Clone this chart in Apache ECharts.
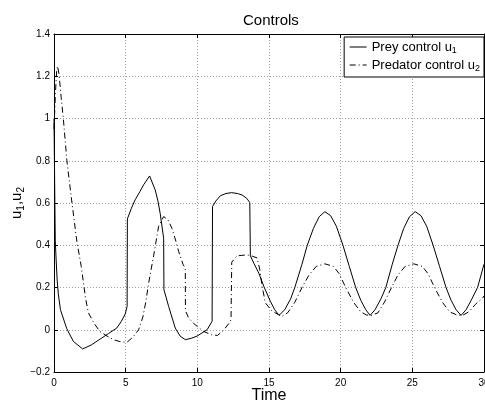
<!DOCTYPE html>
<html>
<head>
<meta charset="utf-8">
<script src="https://cdn.jsdelivr.net/npm/echarts@6/dist/echarts.min.js"></script>
<style>
  html, body { margin: 0; padding: 0; background: #fff; }
  #chart { width: 485px; height: 405px; }
</style>
</head>
<body>
<div id="chart"></div>
<script>
// values
const preyTime = [0, 0.03, 0.06, 0.09, 0.15, 0.22, 0.3, 0.45, 0.89, 1.35, 2.0, 2.6, 3.2, 3.8, 4.38, 4.7, 4.97, 5.1,
    5.12, 5.4, 5.66, 6.0, 6.25, 6.67, 7.06, 7.25, 7.41, 7.65,
    7.67, 8.0, 8.46, 8.8, 9.16, 9.6, 9.98, 10.4, 10.68, 11.03,
    11.06, 11.3, 11.6, 12.0, 12.38, 12.8, 13.12, 13.45, 13.66,
    13.7, 13.94, 14.29, 14.64, 15.1, 15.4, 15.7,
    16.1, 16.5, 16.8, 17.3, 17.67, 18.1, 18.5, 18.9, 19.3, 19.7, 20.16, 20.6, 21.05, 21.4, 21.75, 22.05,
    22.4, 22.8, 23.15, 23.6, 24.0, 24.4, 24.8, 25.2, 25.6, 26.0, 26.45, 26.9, 27.35, 27.7, 28.05, 28.4,
    28.75, 29.15, 29.55, 30.0];
const preyValue = [1.0, 0.8, 0.6, 0.42, 0.33, 0.236, 0.17, 0.095, 0.005, -0.055, -0.091, -0.072, -0.045, -0.018, 0.008, 0.04, 0.075, 0.11,
    0.525, 0.575, 0.615, 0.655, 0.686, 0.728, 0.662, 0.61, 0.55, 0.433,
    0.19, 0.11, 0.008, -0.03, -0.047, -0.04, -0.03, -0.012, 0.0, 0.04,
    0.583, 0.61, 0.634, 0.645, 0.649, 0.645, 0.638, 0.622, 0.602,
    0.35, 0.315, 0.268, 0.205, 0.134, 0.095, 0.068,
    0.095, 0.145, 0.2, 0.31, 0.4, 0.48, 0.535, 0.559, 0.54, 0.49, 0.4, 0.3, 0.2, 0.14, 0.095, 0.068,
    0.095, 0.145, 0.2, 0.31, 0.4, 0.48, 0.535, 0.559, 0.54, 0.49, 0.4, 0.3, 0.2, 0.14, 0.095, 0.068,
    0.095, 0.145, 0.2, 0.31];

const predTime = [0, 0.1, 0.18, 0.25, 0.35, 0.5, 0.65, 0.9, 1.2, 1.59, 1.9, 2.1, 2.2, 2.4, 2.8, 3.2, 3.7, 4.15, 4.6, 5.08,
    5.5, 5.9, 6.2, 6.4, 6.6, 6.95, 7.3, 7.65, 7.95, 8.23, 8.5, 8.7, 9.0, 9.16,
    9.17, 9.4, 9.74, 10.1, 10.44, 11.0, 11.4, 11.8, 12.2, 12.35,
    12.4, 12.77, 13.1, 13.47, 13.85, 14.17, 14.36, 14.52, 14.75, 15.22, 15.9,
    16.3, 16.8, 17.3, 17.8, 18.3, 18.9, 19.5, 19.9, 20.35, 20.9, 21.4, 21.8, 22.15,
    22.6, 23.05, 23.55, 24.0, 24.5, 25.1, 25.7, 26.1, 26.55, 27.1, 27.6, 28.1, 28.5,
    28.95, 29.4, 29.9, 30.0];
const predValue = [0.95, 1.12, 1.22, 1.248, 1.21, 1.1, 1.0, 0.8, 0.63, 0.42, 0.3, 0.2, 0.15, 0.08, 0.03, -0.008, -0.03, -0.047, -0.056, -0.06,
    -0.035, 0.0, 0.06, 0.13, 0.22, 0.35, 0.49, 0.536, 0.52, 0.48, 0.42, 0.37, 0.31, 0.29,
    0.09, 0.055, 0.03, 0.01, -0.008, -0.024, -0.027, -0.005, 0.03, 0.047,
    0.32, 0.35, 0.352, 0.355, 0.348, 0.34, 0.284, 0.205, 0.127, 0.087, 0.064,
    0.08, 0.13, 0.2, 0.26, 0.3, 0.312, 0.3, 0.265, 0.2, 0.13, 0.085, 0.07, 0.068,
    0.08, 0.13, 0.2, 0.26, 0.3, 0.312, 0.3, 0.265, 0.2, 0.13, 0.085, 0.07, 0.068,
    0.085, 0.12, 0.15, 0.16];

const xTicks = { min: 0, max: 30, interval: 5 };
const yTicks = { min: -0.2, max: 1.4, interval: 0.2 };

const zip = (xs, ys) => xs.map((x, i) => [x, ys[i]]);
const font = 'Liberation Sans, Arial, Helvetica, sans-serif';
const fmtY = v => {
    const n = +v.toFixed(1);
    return n < 0 ? '\u2212' + Math.abs(n) : String(n);
};

const chart = echarts.init(document.getElementById('chart'), null, { renderer: 'canvas' });

const gridLine = { show: true, lineStyle: { color: '#a0a0a0', type: [1, 2], width: 1 } };
const box = { show: true, onZero: false, lineStyle: { color: '#000', width: 1 } };
const tick = { inside: true, length: 4, lineStyle: { color: '#000' } };

chart.setOption({
    animation: false,
    backgroundColor: '#fff',
    textStyle: { fontFamily: font },
    title: {
        text: 'Controls',
        left: 238, top: 8,
        textStyle: { fontFamily: font, fontSize: 15, fontWeight: 'normal', color: '#000' }
    },
    legend: {
        orient: 'vertical',
        right: 1, top: 37,
        backgroundColor: '#fff',
        borderColor: '#000', borderWidth: 1, borderRadius: 0,
        padding: [3, 4, 4, 5],
        itemGap: 3,
        itemWidth: 17, itemHeight: 14,
        itemStyle: { opacity: 0 },
        lineStyle: { width: 1 },
        formatter: name => '{a|' + name.slice(0, -1) + '}{s|' + name.slice(-1) + '}',
        textStyle: {
            rich: {
                a: { fontFamily: font, fontSize: 13, color: '#000', lineHeight: 16 },
                s: { fontFamily: font, fontSize: 9, color: '#000', verticalAlign: 'bottom', lineHeight: 16, padding: [6, 0, 0, 0] }
            }
        },
        data: ['Prey control u1', 'Predator control u2']
    },
    grid: { left: 54, right: 1, top: 34, bottom: 33, containLabel: false, outerBoundsMode: 'none' },
    xAxis: [{
        type: 'value', min: xTicks.min, max: xTicks.max, interval: xTicks.interval,
        axisLine: box, axisTick: tick,
        axisLabel: { fontSize: 10, color: '#000', margin: 6, fontFamily: font },
        splitLine: gridLine,
        name: 'Time', nameLocation: 'middle', nameGap: 16, nameMoveOverlap: false,
        nameTextStyle: { fontSize: 16, color: '#000', fontFamily: font, verticalAlign: 'top' }
    }, {
        type: 'value', position: 'top', min: xTicks.min, max: xTicks.max, interval: xTicks.interval,
        axisLine: box, axisTick: tick,
        axisLabel: { show: false }, splitLine: { show: false }
    }],
    yAxis: [{
        type: 'value', min: yTicks.min, max: yTicks.max, interval: yTicks.interval,
        axisLine: box, axisTick: tick,
        axisLabel: { fontSize: 10, color: '#000', margin: 4, fontFamily: font, formatter: fmtY },
        splitLine: gridLine,
        name: '{a|u}{s|1}{a|,u}{s|2}', nameLocation: 'middle', nameGap: 28, nameRotate: 90, nameMoveOverlap: false,
        nameTextStyle: {
            rich: {
                a: { fontFamily: font, fontSize: 15, color: '#000', lineHeight: 18 },
                s: { fontFamily: font, fontSize: 10, color: '#000', verticalAlign: 'bottom', lineHeight: 18, padding: [7, 0, 0, 0] }
            }
        }
    }, {
        type: 'value', position: 'right', min: yTicks.min, max: yTicks.max, interval: yTicks.interval,
        axisLine: box, axisTick: tick,
        axisLabel: { show: false }, splitLine: { show: false }
    }],
    series: [{
        name: 'Prey control u1',
        type: 'line',
        data: zip(preyTime, preyValue),
        showSymbol: false, symbol: 'none',
        lineStyle: { color: '#000', width: 1, type: 'solid' },
        itemStyle: { color: '#000' }
    }, {
        name: 'Predator control u2',
        type: 'line',
        data: zip(predTime, predValue),
        showSymbol: false, symbol: 'none',
        lineStyle: { color: '#000', width: 1, type: [6, 3, 1, 3] },
        itemStyle: { color: '#000' }
    }]
});
</script>
</body>
</html>
